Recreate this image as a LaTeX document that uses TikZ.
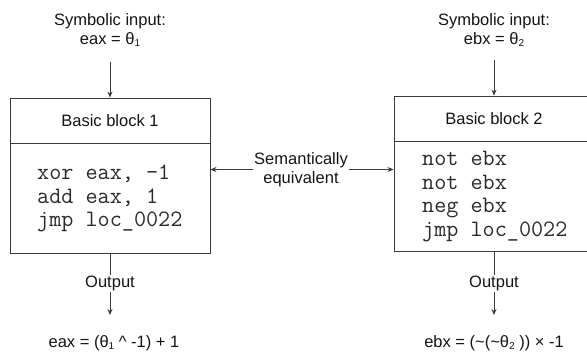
\documentclass[tikz,border=0pt]{standalone}
\usepackage{fontspec}
\setmainfont{Liberation Sans}
\usetikzlibrary{arrows.meta}
\definecolor{linegray}{HTML}{3A3A3A}
\definecolor{inkblack}{HTML}{141414}
\definecolor{codegray}{HTML}{2A2A2A}
\newcommand{\sub}[1]{\raisebox{-0.25ex}{\fontsize{10}{10}\selectfont #1}}
\newcommand{\codestyle}{\ttfamily\addfontfeature{FakeStretch=1.15}\fontsize{23.5}{23.7}\selectfont}
\tikzset{
  label text/.style={font=\fontsize{16.5}{19.5}\selectfont, text=inkblack, align=center, inner sep=1pt},
  header box/.style={draw=linegray, line width=0.9pt, minimum width=200pt, minimum height=45pt, inner sep=0pt, label text},
  body box/.style={draw=linegray, line width=0.9pt, minimum width=200pt, inner sep=0pt},
  code text/.style={font=\codestyle, text=codegray, align=left, inner sep=0pt, anchor=west},
  link/.style={draw=linegray, line width=0.8pt},
  arrowlink/.style={link, -{Stealth[length=6pt,width=5pt]}},
}
\begin{document}
\begin{tikzpicture}[x=1pt,y=-1pt]
\useasboundingbox (0,0) rectangle (587,354);
\clip (0,0) rectangle (587,354);

% left block
\node[label text] (in1) at (110,30) {Symbolic input:\\eax = θ\sub{1}};
\node[header box] (head1) at (110,120.5) {Basic block 1};
\node[body box, minimum height=110pt] (body1) at (110,198) {};
\node[code text] (code1) at (37,198.5) {xor eax, -1\\add eax, 1\\jmp loc\_0022};
\coordinate (in1end) at (110,62);
\draw[arrowlink] (in1end) -- (head1.north);
\node[label text] (out1) at (110,283.5) {Output};
\draw[link] (body1.south) -- (out1.north);
\node[label text] (res1) at (114,343) {eax = (θ\sub{1} \textasciicircum\ -1) + 1};
\coordinate (out1end) at (110,315);
\draw[arrowlink] (out1.south) -- (out1end);

% right block
\node[label text] (in2) at (494,30) {Symbolic input:\\ebx = θ\sub{2}};
\node[header box] (head2) at (494,118.5) {Basic block 2};
\node[body box, minimum height=110pt] (body2) at (494,196) {};
\node[code text] (code2) at (422,196.5) {not ebx\\not ebx\\neg ebx\\jmp loc\_0022};
\coordinate (in2end) at (494,60);
\draw[arrowlink] (in2end) -- (head2.north);
\node[label text] (out2) at (494,283.5) {Output};
\draw[link] (body2.south) -- (out2.north);
\node[label text] (res2) at (494,343) {ebx = (\textasciitilde(\textasciitilde θ\sub{2} )) × -1};
\coordinate (out2end) at (494,315);
\draw[arrowlink] (out2.south) -- (out2end);

% equivalence link between the blocks
\node[label text] (sem) at (301,169.5) {Semantically\\equivalent};
\draw[arrowlink] (sem.west) -- (sem.west -| body1.east);
\draw[arrowlink] (sem.east) -- (sem.east -| body2.west);
\end{tikzpicture}
\end{document}
